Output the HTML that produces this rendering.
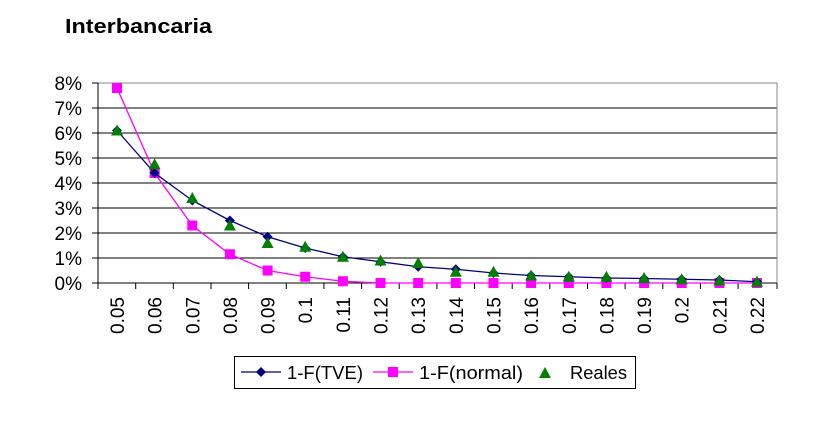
<!DOCTYPE html>
<html><head><meta charset="utf-8"><style>html,body{margin:0;padding:0;background:#fff}svg{display:block}</style></head><body>
<svg width="820" height="439" xmlns="http://www.w3.org/2000/svg" font-family="Liberation Sans, Arial, sans-serif">
<defs>
<path id="d" d="M0,-5 L5,0 L0,5 L-5,0Z" fill="#000080"/>
<rect id="s" x="-5" y="-5" width="10" height="10" fill="#ff00ff"/>
<path id="t" d="M0,-6 L6,5 L-6,5Z" fill="#008000"/>
</defs>
<text x="65" y="33" font-size="20" font-weight="bold" textLength="147" lengthAdjust="spacingAndGlyphs">Interbancaria</text>
<g stroke="#000" stroke-width="1">
<line x1="98" y1="83" x2="777" y2="83" stroke="#888"/>
<line x1="98" y1="108" x2="777" y2="108"/><line x1="98" y1="133" x2="777" y2="133"/>
<line x1="98" y1="158" x2="777" y2="158"/><line x1="98" y1="183" x2="777" y2="183"/>
<line x1="98" y1="208" x2="777" y2="208"/><line x1="98" y1="233" x2="777" y2="233"/>
<line x1="98" y1="258" x2="777" y2="258"/><line x1="92" y1="283" x2="777" y2="283"/>
<line x1="777" y1="83" x2="777" y2="283" stroke="#888"/>
<line x1="98" y1="83" x2="98" y2="289"/>
<line x1="92" y1="83" x2="98" y2="83"/><line x1="92" y1="108" x2="98" y2="108"/><line x1="92" y1="133" x2="98" y2="133"/><line x1="92" y1="158" x2="98" y2="158"/><line x1="92" y1="183" x2="98" y2="183"/><line x1="92" y1="208" x2="98" y2="208"/><line x1="92" y1="233" x2="98" y2="233"/><line x1="92" y1="258" x2="98" y2="258"/>
<path d="M135.7,283v6M173.3,283v6M211,283v6M248.6,283v6M286.3,283v6M323.9,283v6M361.6,283v6M399.2,283v6M436.9,283v6M474.5,283v6M512.2,283v6M549.8,283v6M587.5,283v6M625.1,283v6M662.8,283v6M700.4,283v6M738.1,283v6M777,283v6"/>
</g>
<g font-size="19" text-anchor="end">
<text x="82" y="90">8%</text><text x="82" y="115">7%</text><text x="82" y="140">6%</text><text x="82" y="165">5%</text><text x="82" y="190">4%</text><text x="82" y="215">3%</text><text x="82" y="240">2%</text><text x="82" y="265">1%</text><text x="82" y="290">0%</text>
</g>
<g font-size="19" text-anchor="end">
<text transform="translate(124,297) rotate(-90)">0.05</text>
<text transform="translate(161.6,297) rotate(-90)">0.06</text>
<text transform="translate(199.3,297) rotate(-90)">0.07</text>
<text transform="translate(236.9,297) rotate(-90)">0.08</text>
<text transform="translate(274.6,297) rotate(-90)">0.09</text>
<text transform="translate(312.2,297) rotate(-90)">0.1</text>
<text transform="translate(349.9,297) rotate(-90)">0.11</text>
<text transform="translate(387.5,297) rotate(-90)">0.12</text>
<text transform="translate(425.2,297) rotate(-90)">0.13</text>
<text transform="translate(462.8,297) rotate(-90)">0.14</text>
<text transform="translate(500.5,297) rotate(-90)">0.15</text>
<text transform="translate(538.1,297) rotate(-90)">0.16</text>
<text transform="translate(575.8,297) rotate(-90)">0.17</text>
<text transform="translate(613.4,297) rotate(-90)">0.18</text>
<text transform="translate(651.1,297) rotate(-90)">0.19</text>
<text transform="translate(688.7,297) rotate(-90)">0.2</text>
<text transform="translate(726.4,297) rotate(-90)">0.21</text>
<text transform="translate(764,297) rotate(-90)">0.22</text>
</g>
<polyline fill="none" stroke="#ff00ff" stroke-width="1.3" points="117,88 154.6,173 192.3,225.5 229.9,254.25 267.6,270.5 305.2,276.75 342.9,281.25 380.5,283 418.2,283 455.8,283 493.5,283 531.1,283 568.8,283 606.4,283 644.1,283 681.7,283 719.4,283 757,283"/>
<g>
<use href="#s" x="117" y="88"/><use href="#s" x="154.6" y="173"/><use href="#s" x="192.3" y="225.5"/><use href="#s" x="229.9" y="254.25"/><use href="#s" x="267.6" y="270.5"/><use href="#s" x="305.2" y="276.75"/><use href="#s" x="342.9" y="281.25"/><use href="#s" x="380.5" y="283"/><use href="#s" x="418.2" y="283"/><use href="#s" x="455.8" y="283"/><use href="#s" x="493.5" y="283"/><use href="#s" x="531.1" y="283"/><use href="#s" x="568.8" y="283"/><use href="#s" x="606.4" y="283"/><use href="#s" x="644.1" y="283"/><use href="#s" x="681.7" y="283"/><use href="#s" x="719.4" y="283"/><use href="#s" x="757" y="283"/>
</g>
<polyline fill="none" stroke="#000080" stroke-width="1.3" points="117,130.5 154.6,173 192.3,200.5 229.9,220.5 267.6,236.75 305.2,248 342.9,256.75 380.5,261.75 418.2,266.75 455.8,269.25 493.5,273 531.1,275.5 568.8,276.75 606.4,278 644.1,278.5 681.7,279.25 719.4,280 757,281.75"/>
<g>
<use href="#d" x="117" y="130.5"/><use href="#d" x="154.6" y="173"/><use href="#d" x="192.3" y="200.5"/><use href="#d" x="229.9" y="220.5"/><use href="#d" x="267.6" y="236.75"/><use href="#d" x="305.2" y="248"/><use href="#d" x="342.9" y="256.75"/><use href="#d" x="380.5" y="261.75"/><use href="#d" x="418.2" y="266.75"/><use href="#d" x="455.8" y="269.25"/><use href="#d" x="493.5" y="273"/><use href="#d" x="531.1" y="275.5"/><use href="#d" x="568.8" y="276.75"/><use href="#d" x="606.4" y="278"/><use href="#d" x="644.1" y="278.5"/><use href="#d" x="681.7" y="279.25"/><use href="#d" x="719.4" y="280"/><use href="#d" x="757" y="281.75"/>
</g>
<g>
<use href="#t" x="117" y="130.5"/><use href="#t" x="154.6" y="164.25"/><use href="#t" x="192.3" y="198"/><use href="#t" x="229.9" y="225.5"/><use href="#t" x="267.6" y="243"/><use href="#t" x="305.2" y="246.75"/><use href="#t" x="342.9" y="256.75"/><use href="#t" x="380.5" y="260.5"/><use href="#t" x="418.2" y="263"/><use href="#t" x="455.8" y="271.75"/><use href="#t" x="493.5" y="271.75"/><use href="#t" x="531.1" y="275.5"/><use href="#t" x="568.8" y="276.75"/><use href="#t" x="606.4" y="276.75"/><use href="#t" x="644.1" y="278"/><use href="#t" x="681.7" y="279.25"/><use href="#t" x="719.4" y="280.5"/><use href="#t" x="757" y="281.75"/>
</g>
<rect x="234.5" y="356.5" width="401" height="32" fill="none" stroke="#000" stroke-width="1"/>
<line x1="241" y1="372" x2="281" y2="372" stroke="#000080" stroke-width="1.3"/><use href="#d" x="261" y="372"/>
<text x="287" y="379" font-size="18" textLength="76" lengthAdjust="spacingAndGlyphs">1-F(TVE)</text>
<line x1="373" y1="372" x2="413" y2="372" stroke="#ff00ff" stroke-width="1.3"/><use href="#s" x="393" y="372"/>
<text x="419" y="379" font-size="18" textLength="104" lengthAdjust="spacingAndGlyphs">1-F(normal)</text>
<use href="#t" x="545" y="373"/>
<text x="570" y="379" font-size="18" textLength="57" lengthAdjust="spacingAndGlyphs">Reales</text>
</svg>
</body></html>
